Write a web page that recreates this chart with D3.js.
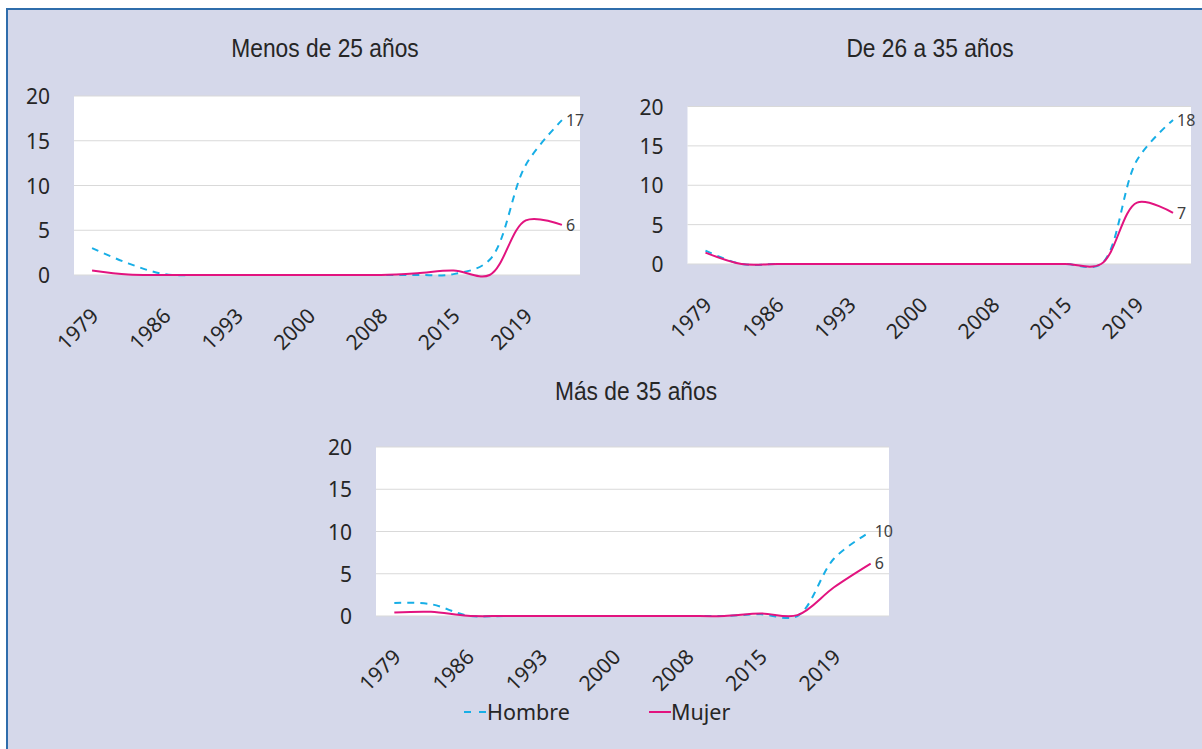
<!DOCTYPE html>
<html>
<head>
<meta charset="utf-8">
<script src="https://cdn.jsdelivr.net/npm/d3@7"></script>
<style>
  html, body { margin: 0; padding: 0; background: #ffffff; }
  svg { display: block; }
</style>
</head>
<body>
<svg id="chart" width="1202" height="749"></svg>
<script>
// ---- Data ----
const categories = ["1979","1982","1986","1989","1993","1996","2000","2004","2008","2011","2015","2017","2019","2021"];
const tickLabels = ["1979","1986","1993","2000","2008","2015","2019"];
const yTicks = [0, 5, 10, 15, 20];
const seriesNames = ["Hombre", "Mujer"];

const menos25Hombre = [3.0, 1.3, 0.1, 0, 0, 0, 0, 0, 0, 0, 0.1, 1.7, 12.3, 17.3];
const menos25Mujer  = [0.5, 0.05, 0, 0, 0, 0, 0, 0, 0, 0.2, 0.5, 0, 6.1, 5.6];
const de26a35Hombre = [1.7, 0, 0, 0, 0, 0, 0, 0, 0, 0, 0, 0, 13.2, 18.3];
const de26a35Mujer  = [1.45, 0, 0, 0, 0, 0, 0, 0, 0, 0, 0, 0, 7.8, 6.5];
const mas35Hombre   = [1.55, 1.4, 0.05, 0, 0, 0, 0, 0, 0, 0, 0.2, 0, 6.8, 10.0];
const mas35Mujer    = [0.4, 0.5, 0.02, 0, 0, 0, 0, 0, 0, 0, 0.3, 0.1, 3.4, 6.2];

const titles = ["Menos de 25 años", "De 26 a 35 años", "Más de 35 años"];

// ---- Layout ----
const panels = [
  { title: titles[0], hombre: menos25Hombre, mujer: menos25Mujer, x0: 74, x1: 580, yTop: 96, yBot: 275, titleX: 325, titleY: 57 },
  { title: titles[1], hombre: de26a35Hombre, mujer: de26a35Mujer, x0: 687.5, x1: 1191, yTop: 106.5, yBot: 264, titleX: 930, titleY: 57 },
  { title: titles[2], hombre: mas35Hombre, mujer: mas35Mujer, x0: 376, x1: 889, yTop: 447, yBot: 616, titleX: 636, titleY: 400 }
];

const colHombre = "#17aee6";
const colMujer = "#e2137f";
const textCol = "#262626";
const tickFont = "'Noto Sans', 'Open Sans', sans-serif";
const titleFont = "'Liberation Sans', Arial, sans-serif";

const svg = d3.select("#chart");

// Background with blue frame
svg.append("rect").attr("x", 0).attr("y", 0).attr("width", 1202).attr("height", 749).attr("fill", "#ffffff");
svg.append("rect")
  .attr("x", 7).attr("y", 9).attr("width", 1210).attr("height", 760)
  .attr("fill", "#d5d8ea").attr("stroke", "#2f6dab").attr("stroke-width", 2);

panels.forEach(p => {
  const g = svg.append("g");
  const x = d3.scalePoint().domain(categories).range([p.x0, p.x1]).padding(0.5);
  const y = d3.scaleLinear().domain([0, 20]).range([p.yBot, p.yTop]);

  // plot area
  g.append("rect")
    .attr("x", p.x0).attr("y", y(20))
    .attr("width", p.x1 - p.x0).attr("height", y(0) - y(20))
    .attr("fill", "#ffffff");

  // gridlines
  g.append("g").selectAll("line").data(yTicks).join("line")
    .attr("x1", p.x0).attr("x2", p.x1)
    .attr("y1", d => y(d)).attr("y2", d => y(d))
    .attr("stroke", "#d9d9d9").attr("stroke-width", 1);

  // y axis labels
  const yAxis = d3.axisLeft(y).tickValues(yTicks).tickSize(0).tickPadding(24);
  const ya = g.append("g").attr("transform", `translate(${p.x0},0)`).call(yAxis);
  ya.select(".domain").remove();
  ya.selectAll("text")
    .attr("font-family", tickFont).attr("font-size", 21)
    .attr("fill", textCol).attr("dy", "0.36em");

  // x axis labels (rotated)
  const xAxis = d3.axisBottom(x).tickValues(categories.filter(c => tickLabels.includes(c))).tickSize(0).tickPadding(0);
  const xa = g.append("g").attr("transform", `translate(0,${p.yBot})`).call(xAxis);
  xa.select(".domain").remove();
  xa.selectAll("text")
    .attr("font-family", tickFont).attr("font-size", 21)
    .attr("fill", textCol)
    .attr("text-anchor", "end")
    .attr("y", 0).attr("dy", "0.36em")
    .attr("transform", "translate(2,37) rotate(-45)");

  const line = d3.line()
    .x((d, i) => x(categories[i]))
    .y(d => y(d))
    .curve(d3.curveCatmullRom.alpha(0.5));

  g.append("path").datum(p.hombre)
    .attr("d", line).attr("fill", "none")
    .attr("stroke", colHombre).attr("stroke-width", 2)
    .attr("stroke-dasharray", "7,6");

  g.append("path").datum(p.mujer)
    .attr("d", line).attr("fill", "none")
    .attr("stroke", colMujer).attr("stroke-width", 2);

  // end labels
  const n = categories.length - 1;
  [p.hombre, p.mujer].forEach(s => {
    g.append("text")
      .attr("x", x(categories[n]) + 4).attr("y", y(s[n]))
      .attr("dy", "0.36em")
      .attr("font-family", tickFont).attr("font-size", 16)
      .attr("fill", "#404040")
      .text(d3.format(".0f")(s[n]));
  });

  // title (condensed)
  g.append("text")
    .attr("transform", `translate(${p.titleX},${p.titleY}) scale(0.86,1)`)
    .attr("text-anchor", "middle")
    .attr("font-family", titleFont).attr("font-size", 26.5)
    .attr("fill", textCol)
    .text(p.title);
});

// Legend
const leg = svg.append("g").attr("transform", "translate(0,712)");
leg.append("line").attr("x1", 464).attr("x2", 487).attr("y1", 0).attr("y2", 0)
  .attr("stroke", colHombre).attr("stroke-width", 2).attr("stroke-dasharray", "7,8");
leg.append("text").attr("x", 487).attr("y", 0).attr("dy", "0.36em")
  .attr("font-family", tickFont).attr("font-size", 21.5).attr("fill", textCol).text(seriesNames[0]);
leg.append("line").attr("x1", 649).attr("x2", 671).attr("y1", 0).attr("y2", 0)
  .attr("stroke", colMujer).attr("stroke-width", 2);
leg.append("text").attr("x", 671).attr("y", 0).attr("dy", "0.36em")
  .attr("font-family", tickFont).attr("font-size", 21.5).attr("fill", textCol).text(seriesNames[1]);
</script>
</body>
</html>
